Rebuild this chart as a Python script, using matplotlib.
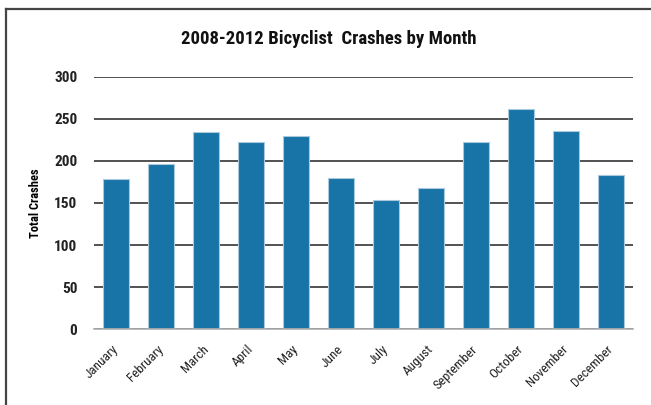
import matplotlib
matplotlib.use('Agg')
import matplotlib.pyplot as plt
from matplotlib.lines import Line2D
from matplotlib import font_manager

# data
months = ['January', 'February', 'March', 'April', 'May', 'June',
          'July', 'August', 'September', 'October', 'November', 'December']
crashes = [178, 196, 234, 222, 229, 180, 153, 168, 222, 262, 236, 183]
yticks = [0, 50, 100, 150, 200, 250, 300]

# a narrow sans if one is around, else DejaVu
names = set(f.name for f in font_manager.fontManager.ttflist)
candidates = ['Roboto Condensed', 'Open Sans Condensed', 'PT Sans Narrow',
              'Archivo Narrow', 'Liberation Sans Narrow', 'Fira Sans Condensed',
              'IBM Plex Sans Condensed', 'Encode Sans Condensed', 'DejaVu Sans']
narrow = next(c for c in candidates if c in names or c == 'DejaVu Sans')
plt.rcParams['font.family'] = [narrow, 'DejaVu Sans']

fig = plt.figure(figsize=(6.51, 4.05), dpi=100)
ax = fig.add_axes([94/651, 1 - 329.3/405, (633-94)/651, (329.3-76.7)/405])

x = range(len(months))
ax.bar(x, crashes, width=0.58, color='#1874a6', edgecolor='#a9c9dd',
       linewidth=0.8, zorder=3)

ax.set_ylim(0, 300)
ax.set_xlim(-0.5, len(months) - 0.5)
ax.set_yticks(yticks)
ax.set_yticklabels([str(v) for v in yticks], fontsize=11, fontweight='bold', color='#222222')
ax.yaxis.grid(True, color='#333333', linewidth=1.2, zorder=0)
ax.set_axisbelow(True)
ax.tick_params(axis='y', length=0, pad=12)
ax.tick_params(axis='x', length=0, pad=13)
ax.set_xticks(list(x))
ax.set_xticklabels(months, rotation=45, ha='right', va='center', rotation_mode='anchor',
                   fontsize=9.5, color='#222222')

for s in ['top', 'right', 'left']:
    ax.spines[s].set_visible(False)
ax.spines['bottom'].set_color('#b0b0b0')
ax.spines['bottom'].set_linewidth(1.2)
ax.spines['bottom'].set_zorder(4)

ax.set_ylabel('Total Crashes', fontsize=9, fontweight='bold', labelpad=9)

fig.text(329/651, 1 - 39/405, '2008-2012 Bicyclist  Crashes by Month',
         ha='center', va='center', fontsize=13.5, fontweight='bold', color='#111111')

# outer frame (top and left only)
fig.add_artist(Line2D([6/651, 6/651], [0, 1 - 9/405], transform=fig.transFigure,
                      color='#444444', linewidth=1.6))
fig.add_artist(Line2D([6/651, 1], [1 - 9/405, 1 - 9/405], transform=fig.transFigure,
                      color='#444444', linewidth=1.6))

fig.savefig('out.png', dpi=100)
